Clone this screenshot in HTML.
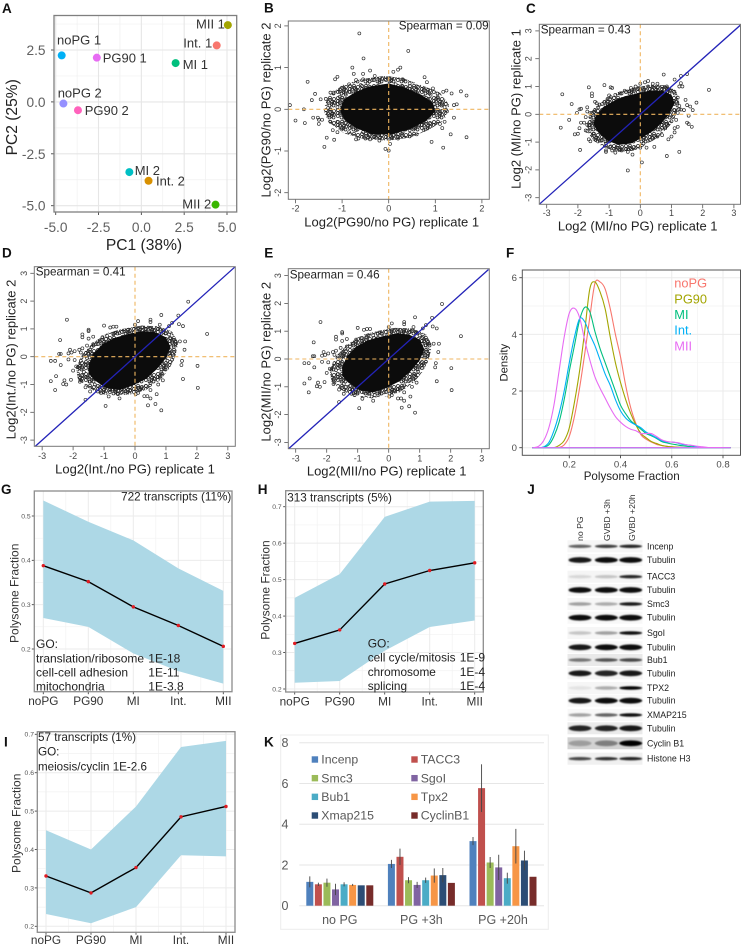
<!DOCTYPE html>
<html lang="en">
<head>
<meta charset="utf-8">
<title>Polysome fraction figure</title>
<style>
html,body{margin:0;padding:0;background:#fff;width:741px;height:946px;overflow:hidden}
svg{display:block;filter:blur(.3px)}
text{font-family:"Liberation Sans",sans-serif;fill:#222}
.letter{font-size:13.5px;font-weight:bold;fill:#111}
.spear{font-size:11.7px}
.sct-title{font-size:13px;text-anchor:middle;fill:#222}
.sct-tick{font-size:9px;fill:#444;text-anchor:middle}
.pca-tick{font-size:13.7px;fill:#606060}
.pca-label{font-size:13px;fill:#333}
.pca-title{font-size:15.6px;text-anchor:middle;fill:#222}
.line-tick{font-size:6.8px;fill:#555;text-anchor:end}
.line-cat{font-size:11.8px;fill:#333;text-anchor:middle}
.line-title{font-size:12px;text-anchor:middle;fill:#333}
.go{font-size:12px;fill:#222}
.f-tick{font-size:9.6px;fill:#4d4d4d}
.f-legend{font-size:12.8px}
.blot-col{font-size:8.7px;fill:#333}
.blot-row{font-size:8.8px;fill:#222}
.k-tick{font-size:12.5px;fill:#595959;text-anchor:end}
.k-cat{font-size:12.5px;fill:#595959;text-anchor:middle}
.k-leg{font-size:12.3px;fill:#595959}
</style>
</head>
<body>
<svg id="figure" xmlns="http://www.w3.org/2000/svg" width="741" height="946" viewBox="0 0 741 946">
<defs>
<filter id="bandBlur" x="-30%" y="-100%" width="160%" height="300%"><feGaussianBlur stdDeviation="0.8"/></filter>
<pattern id="speckle" patternUnits="userSpaceOnUse" width="12" height="12">
<g fill="none" stroke="#222" stroke-width=".75">
<circle cx="2" cy="2" r="1.5"/><circle cx="6" cy="1.8" r="1.5"/><circle cx="10" cy="3" r="1.5"/>
<circle cx="4" cy="5.5" r="1.5"/><circle cx="8" cy="6" r="1.5"/><circle cx="1.8" cy="8" r="1.5"/>
<circle cx="5.5" cy="9.5" r="1.5"/><circle cx="9.5" cy="9.5" r="1.5"/><circle cx="6" cy="3.8" r="1.5"/>
<circle cx="2" cy="5" r="1.5"/><circle cx="7.6" cy="8" r="1.5"/><circle cx="10" cy="6.6" r="1.5"/>
</g>
</pattern>
</defs>
<rect width="741" height="946" fill="#fff"/>

<g id="panel-a">
<g id="marks-a"></g>
<rect x="54" y="15.5" width="182.7" height="196.5" fill="none" stroke="#7f7f7f" stroke-width="1.3"/>
<text class="letter" x="2" y="13">A</text>
<text class="pca-title" x="144" y="250">PC1 (38%)</text>
<text class="pca-title" x="17" y="117.3" transform="rotate(-90 17 117.3)">PC2 (25%)</text>
<text class="pca-label" x="57" y="44.7">noPG 1</text>
<text class="pca-label" x="102.7" y="62.7">PG90 1</text>
<text class="pca-label" x="182.7" y="69">MI 1</text>
<text class="pca-label" x="183.3" y="47.7">Int. 1</text>
<text class="pca-label" x="196" y="28.7">MII 1</text>
<text class="pca-label" x="57.7" y="97.7">noPG 2</text>
<text class="pca-label" x="84.7" y="115">PG90 2</text>
<text class="pca-label" x="134.7" y="175">MI 2</text>
<text class="pca-label" x="156" y="185.3">Int. 2</text>
<text class="pca-label" x="182.3" y="208.7">MII 2</text>
</g>

<g id="panel-b">
<g id="marks-b"></g>
<rect x="288.3" y="21" width="201" height="178.3" fill="none" stroke="#777" stroke-width="1"/>
<text class="letter" x="264" y="12.5">B</text>
<text class="spear" x="488.7" y="29.3" text-anchor="end">Spearman = 0.09</text>
<text class="sct-title" x="391.7" y="226.7">Log2(PG90/no PG) replicate 1</text>
<text class="sct-title" x="270.7" y="110" transform="rotate(-90 270.7 110)">Log2(PG90/no PG) replicate 2</text>
</g>

<g id="panel-c">
<g id="marks-c"></g>
<rect x="539.3" y="24.3" width="201.2" height="180" fill="none" stroke="#777" stroke-width="1"/>
<text class="letter" x="526" y="13">C</text>
<text class="spear" x="540.7" y="33.3">Spearman = 0.43</text>
<text class="sct-title" x="637.7" y="230.7">Log2 (MI/no PG) replicate 1</text>
<text class="sct-title" x="520.7" y="109" transform="rotate(-90 520.7 109)">Log2 (MI/no PG) replicate 1</text>
</g>

<g id="panel-d">
<g id="marks-d"></g>
<rect x="34.3" y="266.7" width="201" height="179.6" fill="none" stroke="#777" stroke-width="1"/>
<text class="letter" x="2" y="257.7">D</text>
<text class="spear" x="35.7" y="275.7">Spearman = 0.41</text>
<text class="sct-title" x="135" y="473.3">Log2(Int./no PG) replicate 1</text>
<text class="sct-title" x="15.3" y="359.5" transform="rotate(-90 15.3 359.5)">Log2(Int./no PG) replicate 2</text>
</g>

<g id="panel-e">
<g id="marks-e"></g>
<rect x="288.3" y="268.7" width="201" height="180" fill="none" stroke="#777" stroke-width="1"/>
<text class="letter" x="264.3" y="257.7">E</text>
<text class="spear" x="289.7" y="278.3">Spearman = 0.46</text>
<text class="sct-title" x="386.7" y="475.7">Log2(MII/no PG) replicate 1</text>
<text class="sct-title" x="270.3" y="361.7" transform="rotate(-90 270.3 361.7)">Log2(MII/no PG) replicate 2</text>
</g>

<g id="panel-f">
<g id="marks-f"></g>
<rect x="522.3" y="270" width="218.2" height="185.3" fill="none" stroke="#555" stroke-width="1"/>
<text class="letter" x="506" y="257.3">F</text>
<text x="631.7" y="480" font-size="11.6" text-anchor="middle">Polysome Fraction</text>
<text x="507.3" y="362.7" font-size="11.3" text-anchor="middle" transform="rotate(-90 507.3 362.7)">Density</text>
<text class="f-legend" x="674.3" y="287.5" style="fill:#F8766D">noPG</text>
<text class="f-legend" x="674.3" y="303.5" style="fill:#A3A500">PG90</text>
<text class="f-legend" x="674.3" y="319" style="fill:#00BF7D">MI</text>
<text class="f-legend" x="674.3" y="334.5" style="fill:#00B0F6">Int.</text>
<text class="f-legend" x="674.3" y="350.5" style="fill:#E76BF3">MII</text>
</g>

<g id="panel-g">
<g id="marks-g"></g>
<rect x="34.3" y="491" width="197.7" height="200.7" fill="none" stroke="#8c8c8c" stroke-width="1.3"/>
<text class="letter" x="1" y="494">G</text>
<text class="line-title" x="18.7" y="593.3" transform="rotate(-90 18.7 593.3)">Polysome Fraction</text>
<text class="go" x="231.3" y="500.7" text-anchor="end" style="font-size:11.7px">722 transcripts (11%)</text>
<text class="go" x="36" y="648">GO:</text>
<text class="go" x="36" y="662.3">translation/ribosome</text>
<text class="go" x="148.3" y="662.3">1E-18</text>
<text class="go" x="36" y="676.7">cell-cell adhesion</text>
<text class="go" x="148.3" y="676.7">1E-11</text>
<text class="go" x="36" y="690.7">mitochondria</text>
<text class="go" x="148.3" y="690.7">1E-3.8</text>
</g>

<g id="panel-h">
<g id="marks-h"></g>
<rect x="285.7" y="490.7" width="197.6" height="201.3" fill="none" stroke="#8c8c8c" stroke-width="1.3"/>
<text class="letter" x="257.7" y="494">H</text>
<text class="line-title" x="269.7" y="590" transform="rotate(-90 269.7 590)">Polysome Fraction</text>
<text class="go" x="287.3" y="501.3" style="font-size:11.7px">313 transcripts (5%)</text>
<text class="go" x="367.7" y="647.7">GO:</text>
<text class="go" x="367.7" y="661.7" style="font-size:11.8px">cell cycle/mitosis</text>
<text class="go" x="459.7" y="661.7">1E-9</text>
<text class="go" x="367.7" y="676" style="font-size:11.8px">chromosome</text>
<text class="go" x="459.7" y="676">1E-4</text>
<text class="go" x="367.7" y="690" style="font-size:11.8px">splicing</text>
<text class="go" x="459.7" y="690">1E-4</text>
</g>

<g id="panel-i">
<g id="marks-i"></g>
<rect x="37.3" y="731.7" width="197.7" height="200.6" fill="none" stroke="#8c8c8c" stroke-width="1.3"/>
<text class="letter" x="4" y="746.7">I</text>
<text class="line-title" x="20.7" y="823.3" transform="rotate(-90 20.7 823.3)">Polysome Fraction</text>
<text class="go" x="38" y="741" style="font-size:11.7px">57 transcripts (1%)</text>
<text class="go" x="38" y="755.7" style="font-size:11.7px">GO:</text>
<text class="go" x="38" y="770.7" style="font-size:11.6px">meiosis/cyclin 1E-2.6</text>
</g>

<g id="panel-j">
<g id="marks-j"></g>
<text class="letter" x="527.3" y="494">J</text>
<text class="blot-col" x="583" y="541" transform="rotate(-90 583 541)">no PG</text>
<text class="blot-col" x="610" y="541" transform="rotate(-90 610 541)">GVBD +3h</text>
<text class="blot-col" x="635" y="541" transform="rotate(-90 635 541)">GVBD +20h</text>
</g>

<g id="panel-k">
<rect x="280.7" y="735" width="267.6" height="194.3" fill="#fff" stroke="#ececec" stroke-width="1"/>
<g id="marks-k"></g>
<text class="letter" x="264" y="746.7">K</text>
</g>
</svg>

<script>
/* ---------- Panel A: PCA ---------- */
const pcaNames = ['noPG 1','PG90 1','MI 1','Int. 1','MII 1','noPG 2','PG90 2','MI 2','Int. 2','MII 2'];
const pcaX = [-4.65,-2.6,2.0,4.4,5.05,-4.55,-3.7,-0.7,0.42,4.33];
const pcaY = [2.24,2.13,1.87,2.72,3.7,-0.08,-0.4,-3.38,-3.8,-4.95];
const pcaColors = ['#00b0f6','#e76bf3','#00bf7d','#f8766d','#a3a500','#9590ff','#ff62bc','#00bfc4','#d89000','#39b600'];
const pcaTicksX = [-5,-2.5,0,2.5,5];
const pcaTicksY = [-5,-2.5,0,2.5];

/* ---------- Panels B–E: replicate scatter plots ---------- */
const ticksB = [-2,-1,0,1,2];
const ticksWide = [-3,-2,-1,0,1,2,3];
const coreB = [[-1.05,0],[-0.95,0.25],[-0.7,0.42],[-0.4,0.55],[0,0.62],[0.35,0.52],[0.7,0.35],[0.95,0.15],[1,-0.05],[0.8,-0.28],[0.45,-0.48],[0.05,-0.6],[-0.35,-0.6],[-0.7,-0.45],[-0.95,-0.25]];
const haloB = [[-1.4,0],[-1.3,0.3],[-1,0.58],[-0.6,0.72],[-0.1,0.8],[0.3,0.75],[0.7,0.58],[1.1,0.4],[1.3,0.1],[1.2,-0.25],[0.85,-0.5],[0.45,-0.68],[0,-0.75],[-0.5,-0.72],[-0.95,-0.58],[-1.3,-0.3]];
const pointsB = [[-2.12,0.1],[-2,-0.27],[-1.82,0],[-1.8,-0.33],[-1.74,0.66],[-1.65,0.22],[-1.62,-0.2],[-1.58,0.37],[-1.52,-0.2],[-1.5,-0.25],[-1.5,-0.35],[-1.46,0.24],[-1.43,-0.25],[-1.38,-0.9],[-1.35,0.25],[-1.33,-0.68],[-1.3,0.03],[-1.25,0],[-1.27,-0.15],[-1.25,0.4],[-1.2,-0.5],[-1.18,0.4],[-1.15,0.72],[-1.1,0.78],[-1.17,-0.73],[-1.1,-0.55],[-1.05,0.3],[-0.78,1],[-0.63,1.82],[-0.54,1.22],[0.42,1.4],[0.25,1],[0.2,0.95],[0.1,0.9],[0.02,0.75],[-0.4,0.93],[-0.55,0.85],[-0.75,0.85],[0.77,0.77],[0.82,0.65],[0.95,0.5],[1.17,0.42],[1.24,0.45],[1.35,0.38],[1.55,0.43],[1.67,0.33],[1.4,0.1],[1.46,0.12],[1.67,-0.67],[1.33,-0.6],[1.17,-0.92],[0.92,-0.78],[1.4,-0.2],[1.2,-0.3],[1.1,-0.35],[1.15,-0.45],[0.03,-0.83],[-0.07,-0.95],[0,-0.99],[-0.5,-0.7],[-0.7,-0.72],[-0.65,-0.7],[-1.1,0.05],[-1.05,0.15],[-1,-0.1],[-1,0.28],[-0.95,-0.25],[-0.92,0.35],[-0.88,-0.35],[-0.85,0.42],[-0.8,-0.42],[-0.72,0.5],[-0.7,-0.5],[-0.6,0.58],[-0.55,-0.55],[-0.45,0.62],[-0.42,-0.6],[-0.35,0.7],[-0.3,-0.65],[-0.2,0.65],[-0.15,-0.62],[-0.08,0.72],[0.05,-0.65],[0.05,0.68],[0.15,-0.6],[0.15,0.6],[0.3,0.55],[0.3,-0.55],[0.4,0.5],[0.45,-0.5],[0.5,0.42],[0.55,-0.45],[0.62,0.38],[0.65,-0.38],[0.75,0.3],[0.75,-0.3],[0.85,0.25],[0.85,-0.2],[0.92,0.15],[0.95,-0.1],[1,0.05],[1.02,0.25],[1.05,0.3],[1.1,-0.05],[-1.15,0.15],[-1.2,-0.1],[-1.25,-0.3],[-1.1,-0.3],[-1.05,0.42],[-0.95,0.5],[-0.85,0.6],[-0.7,0.7],[-0.55,0.72],[-0.3,0.8],[0.3,0.72],[0.45,0.62],[0.6,0.55],[0.75,0.45],[0.9,0.35],[1.15,0.12],[1.2,0.05],[1.25,-0.05],[0.9,-0.35],[0.75,-0.5],[0.6,-0.6],[0.45,-0.65],[0.2,-0.7],[-0.2,-0.75],[-0.4,-0.72],[-0.85,-0.55],[-1,-0.45]];

const coreC = [[-1.45,-0.1],[-1.2,0.25],[-0.9,0.45],[-0.5,0.65],[-0.1,0.75],[0.3,0.85],[0.7,0.85],[1,0.7],[1.1,0.4],[0.95,0.05],[0.7,-0.3],[0.4,-0.6],[0.05,-0.85],[-0.3,-1.05],[-0.7,-1.1],[-1.05,-0.95],[-1.35,-0.65],[-1.5,-0.35]];
const haloC = [[-1.7,-0.2],[-1.5,0.2],[-1.1,0.55],[-0.7,0.8],[-0.2,0.95],[0.3,1.05],[0.8,1.05],[1.15,0.85],[1.25,0.4],[1.15,0],[0.95,-0.4],[0.6,-0.8],[0.2,-1.1],[-0.2,-1.3],[-0.7,-1.35],[-1.15,-1.2],[-1.5,-0.95],[-1.7,-0.6]];
const pointsC = [[2.2,0.88],[-2.5,0.72],[-2.55,-0.48],[-2.2,0.37],[-2.28,-0.2],[-2.03,0.05],[-1.95,0.18],[-1.9,0.2],[-1.7,0.25],[-1.65,0.97],[-1.55,0.75],[-1.55,0.65],[-1.15,1.05],[-0.95,0.97],[-0.9,0.95],[-1,0.68],[-1.45,0.45],[-1.4,0.4],[-1.6,0.05],[-1.7,0.1],[-1.75,-0.1],[-1.9,-0.3],[-1.8,-0.3],[-1.7,-0.38],[-1.95,-0.5],[-2,-0.7],[-2.1,-0.72],[-1.93,-1.28],[-1.7,-0.6],[-1.75,-0.58],[-1.65,-0.9],[-1.6,-0.97],[-1.3,-0.95],[-1.1,-1.35],[-1.1,-1.3],[-0.9,-1.3],[-0.8,-1.38],[-0.6,-1.3],[-0.4,-1.35],[-0.25,-1.45],[0.05,-1.73],[-0.4,-2.02],[0.2,-1.2],[0.45,-1.17],[0.85,-1.5],[1.25,-1.35],[0.9,-0.9],[1,-0.8],[1.1,-0.65],[1.1,-0.5],[1.2,-0.45],[1.15,-0.2],[1.5,-0.3],[1.55,-0.35],[1.65,-0.45],[1.55,-0.05],[1.3,0.17],[1.25,0.18],[1.4,0.15],[1.5,0.33],[1.68,0.15],[1.8,0.42],[1.45,0.52],[1.6,0.28],[1.3,1.12],[1.25,1],[1.35,1],[1.5,1.45],[1.3,1.38],[1.1,1.25],[0.75,1.43],[0.55,1.1],[0.4,1.1],[0.85,1],[0.25,1.2],[0.15,1.15],[0,1.1],[-0.15,1],[-0.3,0.95],[0.95,0.85],[-1.6,-0.1],[-1.55,0.05],[-1.45,0.15],[-1.35,0.25],[-1.3,0.35],[-1.15,0.45],[-1.05,0.55],[-0.95,0.62],[-0.8,0.7],[-0.65,0.75],[-0.5,0.85],[-0.35,0.82],[-0.2,0.9],[-0.05,0.95],[0.1,0.95],[0.25,1],[0.4,0.98],[0.55,0.95],[0.7,0.98],[0.85,0.9],[1,0.85],[1.1,0.75],[1.2,0.6],[1.15,0.45],[1.25,0.3],[1.1,0.15],[1.2,0.05],[1.05,-0.1],[1,-0.25],[0.85,-0.35],[0.8,-0.5],[0.65,-0.55],[0.7,-0.75],[0.55,-0.8],[0.4,-0.85],[0.25,-0.95],[0.1,-1.05],[0,-1.2],[-0.15,-1.2],[-0.3,-1.25],[-0.45,-1.25],[-0.6,-1.25],[-0.75,-1.2],[-0.95,-1.15],[-1.1,-1.05],[-1.25,-0.95],[-1.4,-0.85],[-1.5,-0.7],[-1.6,-0.55],[-1.65,-0.4],[-1.55,-0.25]];

const coreD = [[-1.5,-0.3],[-1.35,0.1],[-1.05,0.45],[-0.65,0.68],[-0.2,0.82],[0.25,0.92],[0.65,0.88],[1,0.7],[1.15,0.35],[1,-0.05],[0.7,-0.45],[0.35,-0.8],[-0.1,-1.05],[-0.5,-1.2],[-0.95,-1.12],[-1.3,-0.85],[-1.5,-0.6]];
const haloD = [[-1.9,-0.4],[-1.7,0.1],[-1.35,0.5],[-0.9,0.85],[-0.4,1],[0.2,1.12],[0.75,1.1],[1.2,0.9],[1.4,0.5],[1.3,0],[1.1,-0.45],[0.8,-0.85],[0.35,-1.2],[-0.1,-1.35],[-0.6,-1.4],[-1.1,-1.35],[-1.55,-1.1],[-1.85,-0.8]];
const pointsD = [[2.33,0.82],[1.72,1.98],[2.02,-0.33],[2.03,-1.12],[1.55,-0.8],[1.5,-0.3],[1.52,-0.15],[1.6,0.25],[1.62,0.55],[1.45,0.55],[1.42,1.17],[1.55,1.1],[1.4,1.48],[1.2,1.22],[1.1,1.1],[0.85,1.5],[0.8,1.15],[0.5,1.33],[0.5,1.25],[0.1,1.28],[0,1.15],[0.85,-1.93],[0.66,-1.7],[0.42,-1.75],[0.7,-1.35],[0.5,-1.5],[0.4,-1.42],[0.3,-1.42],[0.5,-1.2],[0.2,-1.15],[0.02,-1.35],[0.1,-1.3],[-0.95,-1.77],[-0.5,-1.5],[-0.55,-1.35],[-0.85,-1.43],[-1.1,-1.3],[-1.2,-1.25],[-1.45,-1.25],[-1.6,-1.55],[-2.2,1.33],[-2.42,0.6],[-1.5,0.97],[-1.5,0.92],[-1.7,0.8],[-1.7,0.7],[-1.7,0.3],[-1.5,0.65],[-1.35,0.72],[-1.35,0.45],[-1.55,0.4],[-1.8,0.25],[-1.75,0.15],[-1.95,0.2],[-2.05,0.15],[-2.1,0.25],[-2.15,0.12],[-2.4,0.1],[-2.45,0.1],[-2.4,-0.3],[-2.15,-0.1],[-1.95,-0.12],[-1.9,-0.35],[-1.85,-0.38],[-2,-0.5],[-2.58,-0.15],[-2.72,-0.15],[-2.58,-1.2],[-2.72,-0.88],[-2.55,-0.7],[-2.28,-0.85],[-2.22,-1],[-2.32,-0.98],[-2.07,-0.83],[-1.75,-0.85],[-1.78,-0.9],[-1.7,-0.7],[-1.6,-1.1],[-1,1.12],[-0.8,1.05],[-0.7,1.08],[-0.6,1.08],[-0.65,0.85],[-0.35,0.9],[-1.5,0.2],[-1.4,0.35],[-1.25,0.45],[-1.15,0.55],[-1.05,0.7],[-0.9,0.75],[-0.85,0.6],[-0.7,0.8],[-0.5,0.85],[-0.4,0.72],[-0.2,0.9],[-0.05,0.85],[0.1,1],[0.25,1.05],[0.35,0.95],[0.5,1],[0.65,0.95],[0.75,1],[0.9,0.95],[1,0.85],[1.1,0.8],[1.15,0.65],[1.2,0.5],[1.25,0.35],[1.3,0.55],[1.1,0.2],[1.15,0.05],[1.2,-0.1],[1.05,-0.15],[1,-0.3],[0.95,-0.45],[0.85,-0.55],[0.8,-0.7],[0.65,-0.8],[0.9,-0.85],[0.75,-1],[0.5,-0.95],[0.35,-1.05],[0.2,-1.1],[0.05,-1.15],[-0.15,-1.2],[-0.3,-1.25],[-0.45,-1.3],[-0.65,-1.25],[-0.8,-1.2],[-1,-1.2],[-1.15,-1.1],[-1.3,-1],[-1.45,-0.9],[-1.55,-0.75],[-1.65,-0.55],[-1.7,-0.4],[-1.6,-0.25],[-1.75,-0.15],[-1.55,-0.05],[-1.65,0.05],[-1.5,0.1]];

const coreE = [[-1.5,-0.3],[-1.35,0.1],[-1.05,0.45],[-0.65,0.68],[-0.2,0.82],[0.25,0.92],[0.65,0.88],[1,0.7],[1.15,0.35],[1,-0.05],[0.7,-0.45],[0.35,-0.8],[-0.1,-1.05],[-0.5,-1.2],[-0.95,-1.12],[-1.3,-0.85],[-1.5,-0.6]];
const haloE = [[-1.9,-0.4],[-1.7,0.1],[-1.35,0.5],[-0.9,0.85],[-0.4,1],[0.2,1.12],[0.75,1.1],[1.2,0.9],[1.4,0.5],[1.3,0],[1.1,-0.45],[0.8,-0.85],[0.35,-1.2],[-0.1,-1.35],[-0.6,-1.4],[-1.1,-1.35],[-1.55,-1.1],[-1.85,-0.8]];
const pointsE = [[2.33,0.82],[1.72,1.98],[2.02,-0.33],[2.03,-1.12],[1.55,-0.8],[1.5,-0.3],[1.52,-0.15],[1.6,0.25],[1.62,0.55],[1.45,0.55],[1.42,1.17],[1.55,1.1],[1.4,1.48],[1.2,1.22],[1.1,1.1],[0.85,1.5],[0.8,1.15],[0.5,1.33],[0.5,1.25],[0.1,1.28],[0,1.15],[0.85,-1.93],[0.66,-1.7],[0.42,-1.75],[0.7,-1.35],[0.5,-1.5],[0.4,-1.42],[0.3,-1.42],[0.5,-1.2],[0.2,-1.15],[0.02,-1.35],[0.1,-1.3],[-0.95,-1.77],[-0.5,-1.5],[-0.55,-1.35],[-0.85,-1.43],[-1.1,-1.3],[-1.2,-1.25],[-1.45,-1.25],[-1.6,-1.55],[-2.2,1.33],[-2.42,0.6],[-1.5,0.97],[-1.5,0.92],[-1.7,0.8],[-1.7,0.7],[-1.7,0.3],[-1.5,0.65],[-1.35,0.72],[-1.35,0.45],[-1.55,0.4],[-1.8,0.25],[-1.75,0.15],[-1.95,0.2],[-2.05,0.15],[-2.1,0.25],[-2.15,0.12],[-2.4,0.1],[-2.45,0.1],[-2.4,-0.3],[-2.15,-0.1],[-1.95,-0.12],[-1.9,-0.35],[-1.85,-0.38],[-2,-0.5],[-2.58,-0.15],[-2.72,-0.15],[-2.58,-1.2],[-2.72,-0.88],[-2.55,-0.7],[-2.28,-0.85],[-2.22,-1],[-2.32,-0.98],[-2.07,-0.83],[-1.75,-0.85],[-1.78,-0.9],[-1.7,-0.7],[-1.6,-1.1],[-1,1.12],[-0.8,1.05],[-0.7,1.08],[-0.6,1.08],[-0.65,0.85],[-0.35,0.9],[-1.5,0.2],[-1.4,0.35],[-1.25,0.45],[-1.15,0.55],[-1.05,0.7],[-0.9,0.75],[-0.85,0.6],[-0.7,0.8],[-0.5,0.85],[-0.4,0.72],[-0.2,0.9],[-0.05,0.85],[0.1,1],[0.25,1.05],[0.35,0.95],[0.5,1],[0.65,0.95],[0.75,1],[0.9,0.95],[1,0.85],[1.1,0.8],[1.15,0.65],[1.2,0.5],[1.25,0.35],[1.3,0.55],[1.1,0.2],[1.15,0.05],[1.2,-0.1],[1.05,-0.15],[1,-0.3],[0.95,-0.45],[0.85,-0.55],[0.8,-0.7],[0.65,-0.8],[0.9,-0.85],[0.75,-1],[0.5,-0.95],[0.35,-1.05],[0.2,-1.1],[0.05,-1.15],[-0.15,-1.2],[-0.3,-1.25],[-0.45,-1.3],[-0.65,-1.25],[-0.8,-1.2],[-1,-1.2],[-1.15,-1.1],[-1.3,-1],[-1.45,-0.9],[-1.55,-0.75],[-1.65,-0.55],[-1.7,-0.4],[-1.6,-0.25],[-1.75,-0.15],[-1.55,-0.05],[-1.65,0.05],[-1.5,0.1]];

/* ---------- Panel F: density curves ---------- */
const fractionGrid = [.06,.08,.10,.12,.14,.16,.18,.20,.22,.24,.26,.28,.30,.32,.34,.36,.38,.40,.42,.44,.46,.48,.50,.52,.54,.56,.58,.60,.62,.64,.66,.68,.70,.72,.74];
const densityNoPG = [0,0,0,0,0,.01,.1,.4,1.1,2.1,3.3,4.6,5.8,5.85,5.6,4.9,4.0,3.2,2.2,1.4,.85,.45,.3,.2,.12,.08,.05,.03,.02,.01,.01,0,0,0,0];
const densityPG90 = [0,0,0,0,0,.08,.25,.7,1.6,2.7,4.1,5.6,5.85,5.5,4.9,3.9,3.0,2.3,1.7,1.2,.8,.5,.35,.22,.15,.08,.05,.03,.02,.01,0,0,0,0,0];
const densityMI = [0,0,.02,.1,.4,.9,1.7,2.7,3.6,4.5,4.95,4.8,4.1,3.5,3.0,2.5,2.0,1.5,1.2,.95,.8,.65,.5,.42,.33,.22,.17,.13,.1,.07,.05,.03,.01,0,0];
const densityInt = [0,0,.03,.18,.6,1.2,2.0,3.0,3.9,4.55,4.45,4.0,3.6,3.1,2.6,2.2,1.7,1.3,1.05,.9,.8,.7,.55,.45,.35,.25,.2,.2,.17,.12,.1,.07,.03,.01,0];
const densityMII = [0,.05,.25,.7,1.5,2.7,3.9,4.75,4.92,4.6,3.8,3.1,2.5,2.1,1.75,1.4,1.1,.9,.75,.65,.6,.5,.5,.5,.4,.28,.22,.2,.18,.14,.1,.08,.05,.03,.01];
const densityRange = [.055,.83];
const densityTicksX = [.2,.4,.6,.8];
const densityTicksY = [0,2,4,6];

/* ---------- Panels G, H, I: polysome trajectories ---------- */
const stages = ['noPG','PG90','MI','Int.','MII'];
const meanG = [.388,.352,.295,.253,.206];
const upperG = [.535,.487,.445,.382,.331];
const lowerG = [.27,.25,.19,.15,.122];
const ticksG = [.2,.3,.4,.5];
const meanH = [.325,.362,.488,.525,.546];
const upperH = [.45,.515,.672,.714,.716];
const lowerH = [.217,.222,.305,.37,.388];
const ticksH = [.2,.3,.4,.5,.6,.7];
const meanI = [.331,.287,.353,.485,.512];
const upperI = [.45,.40,.512,.667,.683];
const lowerI = [.232,.208,.25,.385,.382];
const ticksI = [.2,.3,.4,.5,.6,.7];

/* ---------- Panel J: blot rows ---------- */
const blotLabels = ['Incenp','Tubulin','TACC3','Tubulin','Smc3','Tubulin','SgoI','Tubulin','Bub1','Tubulin','TPX2','Tubulin','XMAP215','Tubulin','Cyclin B1','Histone H3'];
const blotNoPG = [.6,.9,.12,.95,.35,.95,.2,.9,.5,.9,.08,.9,.35,.85,.25,.7];
const blotGvbd3 = [.75,.95,.2,.95,.3,.95,.35,.95,.65,.85,.3,.95,.6,.85,.4,.8];
const blotGvbd20 = [.85,.95,.85,.95,.9,.95,.95,.95,.7,.9,1,.95,.95,.9,1,.85];
const blotShade = ['#f6f6f6','#f8f8f8','#f5f5f5','#f8f8f8','#f6f6f6','#f8f8f8','#f6f6f6','#f8f8f8','#e9e9e9','#f6f6f6','#f6f6f6','#f8f8f8','#f8f8f8','#ebebeb','#d2d2d2','#f0f0f0'];

/* ---------- Panel K: grouped bars ---------- */
const barGroups = ['no PG','PG +3h','PG +20h'];
const barGenes = ['Incenp','TACC3','Smc3','SgoI','Bub1','Tpx2','Xmap215','CyclinB1'];
const barColors = ['#4f81bd','#c0504d','#9bbb59','#8064a2','#4bacc6','#f79646','#2c4d75','#772c2a'];
const barsNoPG = [1.17,1.05,1.13,.8,1.05,1.02,1.0,1.0];
const errsNoPG = [.27,.08,.2,.28,.1,.05,0,0];
const bars3h = [2.05,2.4,1.25,1.02,1.25,1.48,1.5,1.12];
const errs3h = [.2,.4,.15,.15,.13,.35,.35,0];
const bars20h = [3.17,5.77,2.12,1.88,1.35,2.92,2.22,1.42];
const errs20h = [.2,1.17,.27,.62,.27,.85,.48,0];
const barTicks = [0,2,4,6,8];

/* ---------- helpers ---------- */
const NS = 'http://www.w3.org/2000/svg';
function make(tag, attrs, parent){
  const n = document.createElementNS(NS, tag);
  for (const k in attrs) n.setAttribute(k, attrs[k]);
  parent.appendChild(n);
  return n;
}
function linear(d0, r0, d1, r1){
  return v => r0 + (v - d0) * (r1 - r0) / (d1 - d0);
}
function midpoints(vals){
  const out = [];
  for (let i = 0; i < vals.length - 1; i++) out.push((vals[i] + vals[i + 1]) / 2);
  return out;
}
function gridV(parent, scale, vals, y0, y1, color, width){
  vals.forEach(v => {
    const g = make('line', {x1: scale(v), x2: scale(v), y1: y0, y2: y1, stroke: color, 'stroke-width': width}, parent);
    
    
  });
}
function gridH(parent, scale, vals, x0, x1, color, width){
  vals.forEach(v => {
    const g = make('line', {x1: x0, x2: x1, y1: scale(v), y2: scale(v), stroke: color, 'stroke-width': width}, parent);
    
    
  });
}
function ticksX(parent, scale, vals, y0, len, labelY, cls, fmt, color){
  vals.forEach(v => {
    const t = make('line', {x1: scale(v), x2: scale(v), y1: y0, y2: y0 + len, stroke: color, 'stroke-width': .9}, parent);
    
    
    const lab = make('text', {x: scale(v), y: labelY, class: cls, 'text-anchor': 'middle'}, parent);
    lab.textContent = fmt(v);
    
    
  });
}
function ticksY(parent, scale, vals, x0, len, labelX, cls, fmt, color, dy){
  vals.forEach(v => {
    const t = make('line', {x1: x0 - len, x2: x0, y1: scale(v), y2: scale(v), stroke: color, 'stroke-width': .9}, parent);
    
    
    const lab = make('text', {x: labelX, y: scale(v) + dy, class: cls, 'text-anchor': 'end'}, parent);
    lab.textContent = fmt(v);
    
    
  });
}

/* ---------- Panel A ---------- */
(function(){
  const p = document.getElementById('marks-a');
  const x = linear(-5, 55.7, 5, 227);
  const y = linear(2.5, 50, -5, 205.7);
  gridV(p, x, midpoints(pcaTicksX), 15.5, 212, '#f0f0f0', .7);
  gridH(p, y, midpoints(pcaTicksY).concat([3.75]), 54, 236.7, '#f0f0f0', .7);
  gridV(p, x, pcaTicksX, 15.5, 212, '#e6e6e6', 1.1);
  gridH(p, y, pcaTicksY, 54, 236.7, '#e6e6e6', 1.1);
  ticksX(p, x, pcaTicksX, 212, 3, 232, 'pca-tick', v => v.toFixed(1), '#444');
  ticksY(p, y, pcaTicksY, 54, 3, 45.5, 'pca-tick', v => v.toFixed(1), '#444', 5);
  pcaNames.forEach((name, i) => {
    const c = make('circle', {cx: x(pcaX[i]), cy: y(pcaY[i]), r: 4, fill: pcaColors[i]}, p);
    
    
  });
})();

/* ---------- Panels B–E ---------- */
function scatter(id, xs, ys, frame, ticks, core, halo, pts, withDiagonal, xTickY, yTickX){
  const p = document.getElementById(id);
  const haloShape = make('polygon', {points: halo.map(d => xs(d[0]) + ',' + ys(d[1])).join(' '), fill: 'url(#speckle)'}, p);
  
  
  pts.forEach(d => {
    const c = make('circle', {cx: xs(d[0]), cy: ys(d[1]), r: 1.5, fill: 'none', stroke: '#2a2a2a', 'stroke-width': .65}, p);
    
    
  });
  const hull = make('polygon', {points: core.map(d => xs(d[0]) + ',' + ys(d[1])).join(' '), fill: '#0c0c0c'}, p);
  
  
  const h = make('line', {x1: frame.x0, x2: frame.x1, y1: ys(0), y2: ys(0), stroke: '#efb660', 'stroke-width': 1.1, 'stroke-dasharray': '4 3'}, p);
  
  
  const v = make('line', {x1: xs(0), x2: xs(0), y1: frame.y0, y2: frame.y1, stroke: '#efb660', 'stroke-width': 1.1, 'stroke-dasharray': '4 3'}, p);
  
  
  if (withDiagonal) {
    const dg = make('line', {x1: xs(-3.22), y1: ys(-3.22), x2: xs(3.22), y2: ys(3.22), stroke: '#2323b8', 'stroke-width': 1.3}, p);
    
    
  }
  ticks.forEach(t => {
    const tx = make('line', {x1: xs(t), x2: xs(t), y1: frame.y1, y2: frame.y1 + 4, stroke: '#555', 'stroke-width': .8}, p);
    
    
    const lx = make('text', {x: xs(t), y: xTickY, class: 'sct-tick'}, p);
    lx.textContent = String(t);
    
    
    const ty = make('line', {x1: frame.x0 - 4, x2: frame.x0, y1: ys(t), y2: ys(t), stroke: '#555', 'stroke-width': .8}, p);
    
    
    const ly = make('text', {x: yTickX, y: ys(t), class: 'sct-tick', transform: 'rotate(-90 ' + yTickX + ' ' + ys(t) + ')'}, p);
    ly.textContent = String(t);
    
    
  });
}
scatter('marks-b', linear(0, 388.7, 1, 435.3), linear(0, 109.3, 1, 67.6), {x0: 288.3, x1: 489.3, y0: 21, y1: 199.3}, ticksB, coreB, haloB, pointsB, false, 211.7, 281);
scatter('marks-c', linear(0, 640.3, 1, 671.5), linear(0, 114.3, 1, 86.5), {x0: 539.3, x1: 740.5, y0: 24.3, y1: 204.3}, ticksWide, coreC, haloC, pointsC, true, 216, 531.7);
scatter('marks-d', linear(0, 135, 1, 165.95), linear(0, 356.7, 1, 328.9), {x0: 34.3, x1: 235.3, y0: 266.7, y1: 446.3}, ticksWide, coreD, haloD, pointsD, true, 459, 26.8);
scatter('marks-e', linear(0, 388.7, 1, 419.7), linear(0, 359, 1, 331.2), {x0: 288.3, x1: 489.3, y0: 268.7, y1: 448.7}, ticksWide, coreE, haloE, pointsE, true, 461.7, 280.8);

/* ---------- Panel F ---------- */
(function(){
  const p = document.getElementById('marks-f');
  const x = linear(.2, 569.3, .8, 723);
  const y = linear(0, 447.7, 6, 277.7);
  gridV(p, x, midpoints(densityTicksX).concat([.1]), 270, 455.3, '#f3f3f3', .7);
  gridH(p, y, midpoints(densityTicksY), 522.3, 740.5, '#f3f3f3', .7);
  gridV(p, x, densityTicksX, 270, 455.3, '#ebebeb', 1);
  gridH(p, y, densityTicksY, 522.3, 740.5, '#ebebeb', 1);
  ticksX(p, x, densityTicksX, 455.3, 3, 467.3, 'f-tick', v => v.toFixed(1), '#444');
  ticksY(p, y, densityTicksY, 522.3, 3, 517, 'f-tick', v => String(v), '#444', 3.4);
  const series = [[densityNoPG, '#F8766D', 'density-curve-nopg'], [densityPG90, '#A3A500', 'density-curve-pg90'], [densityMI, '#00BF7D', 'density-curve-mi'], [densityInt, '#00B0F6', 'density-curve-int'], [densityMII, '#E76BF3', 'density-curve-mii']];
  series.forEach(s => {
    const pts = fractionGrid.map((f, i) => [x(f), y(s[0][i])]);
    let d = 'M' + x(densityRange[0]) + ' ' + y(0) + 'L' + pts[0][0] + ' ' + pts[0][1];
    for (let i = 0; i < pts.length - 1; i++) {
      const a = pts[Math.max(i - 1, 0)], b = pts[i], c = pts[i + 1], e = pts[Math.min(i + 2, pts.length - 1)];
      d += 'C' + (b[0] + (c[0] - a[0]) / 6) + ' ' + (b[1] + (c[1] - a[1]) / 6) + ' ' + (c[0] - (e[0] - b[0]) / 6) + ' ' + (c[1] - (e[1] - b[1]) / 6) + ' ' + c[0] + ' ' + c[1];
    }
    d += 'L' + x(densityRange[1]) + ' ' + y(0) + 'Z';
    const path = make('path', {d: d, fill: 'none', stroke: s[1], 'stroke-width': 1.1}, p);
    
    
  });
})();

/* ---------- Panels G, H, I ---------- */
function trajectory(id, firstCat, yRef, frame, ticks, mean, upper, lower, catY, tickRight){
  const p = document.getElementById(id);
  const x = linear(0, firstCat, 4, firstCat + 180);
  const y = linear(yRef[0], yRef[1], yRef[2], yRef[3]);
  const indices = stages.map((s, i) => i);
  gridV(p, x, midpoints(indices), frame.y0, frame.y1, '#f2f2f2', .7);
  gridH(p, y, midpoints(ticks), frame.x0, frame.x1, '#f2f2f2', .7);
  gridV(p, x, indices, frame.y0, frame.y1, '#ebebeb', 1);
  gridH(p, y, ticks, frame.x0, frame.x1, '#ebebeb', 1);
  const top = upper.map((v, i) => x(i) + ',' + y(v));
  const bottom = lower.map((v, i) => x(i) + ',' + y(v)).reverse();
  const band = make('polygon', {points: top.concat(bottom).join(' '), fill: '#add8e6'}, p);
  
  
  const line = make('polyline', {points: mean.map((v, i) => x(i) + ',' + y(v)).join(' '), fill: 'none', stroke: '#000', 'stroke-width': 1.4}, p);
  
  
  mean.forEach((v, i) => {
    const dot = make('circle', {cx: x(i), cy: y(v), r: 1.7, fill: '#e01b22'}, p);
    
    
  });
  ticksY(p, y, ticks, frame.x0, 2.5, tickRight, 'line-tick', v => v.toFixed(1), '#444', 2.4);
  indices.forEach(i => {
    const t = make('line', {x1: x(i), x2: x(i), y1: frame.y1, y2: frame.y1 + 2.5, stroke: '#444', 'stroke-width': .9}, p);
    
    
    const lab = make('text', {x: x(i), y: catY, class: 'line-cat'}, p);
    lab.textContent = stages[i];
    
    
  });
}
trajectory('marks-g', 43.3, [.2, 649, .5, 516], {x0: 34.3, x1: 232, y0: 491, y1: 691.7}, ticksG, meanG, upperG, lowerG, 705, 30.7);
trajectory('marks-h', 294.7, [.2, 689, .7, 506.7], {x0: 285.7, x1: 483.3, y0: 490.7, y1: 692}, ticksH, meanH, upperH, lowerH, 705.7, 281.7);
trajectory('marks-i', 46, [.2, 926.3, .7, 734.3], {x0: 37.3, x1: 235, y0: 731.7, y1: 932.3}, ticksI, meanI, upperI, lowerI, 944, 34);

/* ---------- Panel J ---------- */
(function(){
  const p = document.getElementById('marks-j');
  const rowCenter = i => [546.3,560,576.7,590,604,617.7,633,647.3,660,673.3,688,700.7,715,728.3,743.3,758.7][i];
  const lanes = [[blotNoPG, 580], [blotGvbd3, 606.3], [blotGvbd20, 630.7]];
  blotLabels.forEach((label, i) => {
    const bg = make('rect', {x: 567.5, y: rowCenter(i) - 6, width: 75, height: 12, fill: blotShade[i]}, p);
    
    
    lanes.forEach(l => {
      const isThick = label === 'Tubulin' || label === 'Cyclin B1';
      const band = make('ellipse', {cx: l[1], cy: rowCenter(i), rx: 11.5, ry: isThick ? 2.9 : 1.7, fill: '#050505', 'fill-opacity': l[0][i], filter: 'url(#bandBlur)'}, p);
      
      
    });
    const t = make('text', {x: 647, y: rowCenter(i) + 3, class: 'blot-row'}, p);
    t.textContent = label;
    
    
  });
})();

/* ---------- Panel K ---------- */
(function(){
  const p = document.getElementById('marks-k');
  const y = linear(0, 905.7, 8, 742.7);
  gridH(p, y, barTicks, 299.3, 544, '#e6e6e6', 1);
  barTicks.forEach(t => {
    const lab = make('text', {x: 288.5, y: y(t) + 4.5, class: 'k-tick'}, p);
    lab.textContent = String(t);
    
    
  });
  const groupX = linear(0, 339.8, 2, 503);
  const barStep = 8.57, barWidth = 7;
  const values = [barsNoPG, bars3h, bars20h];
  const errors = [errsNoPG, errs3h, errs20h];
  barGroups.forEach((g, gi) => {
    values[gi].forEach((v, bi) => {
      const cx = groupX(gi) + (bi - 3.5) * barStep;
      const bar = make('rect', {x: cx - barWidth / 2, y: y(v), width: barWidth, height: y(0) - y(v), fill: barColors[bi]}, p);
      
      
      if (errors[gi][bi] > 0) {
        const err = make('line', {x1: cx, x2: cx, y1: y(v + errors[gi][bi]), y2: y(v - errors[gi][bi]), stroke: '#444', 'stroke-width': .9}, p);
        
        
      }
    });
    const lab = make('text', {x: groupX(gi), y: 924, class: 'k-cat'}, p);
    lab.textContent = g;
    
    
  });
  barGenes.forEach((gene, i) => {
    const col = i % 2, row = (i - col) / 2;
    const sq = make('rect', {x: col ? 411.3 : 311.7, y: 756.3 + row * 18.67, width: 6.4, height: 6.4, fill: barColors[i]}, p);
    
    
    const t = make('text', {x: col ? 420.7 : 321.3, y: 763.6 + row * 18.67, class: 'k-leg'}, p);
    t.textContent = gene;
    
    
  });
})();
</script>
</body>
</html>
